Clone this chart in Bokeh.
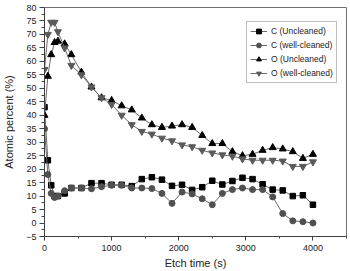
from bokeh.plotting import figure
from bokeh.models import Range1d, Legend, LegendItem, FixedTicker, AllLabels
from bokeh.embed import file_html
from bokeh.resources import INLINE

etch_time = [0, 50, 100, 150, 200, 300, 400, 550, 700, 850, 1000, 1150, 1300, 1450, 1600,
             1750, 1900, 2050, 2200, 2350, 2500, 2650, 2800, 2950, 3100, 3250, 3400,
             3550, 3700, 3850, 4000]
c_uncleaned = [43, 23.3, 14, 10, 10, 11, 13, 13, 14.8, 14.8, 14.2, 14.2, 13.7, 16.3, 17,
               16.1, 13.8, 14.2, 12.3, 13.3, 15.7, 14.3, 15.6, 16.8, 16.3, 14.4, 12.4,
               12.1, 10, 10.3, 6.8]
c_well_cleaned = [35, 18, 11, 9.5, 10, 12, 13, 13, 12.7, 13.5, 14, 14, 13, 13, 12.8,
                  11, 7.3, 11.5, 10.8, 9, 6.8, 11, 12.4, 13, 12.4, 12.4, 9.7,
                  3.5, 0.8, 0.5, 0]
o_uncleaned = [40, 54.5, 62.5, 67, 67.5, 66.5, 62.5, 56, 50.5, 46.5, 45.5, 43.5, 42, 39, 36.5,
               35.5, 36, 36.5, 35.5, 32.5, 29.5, 29.5, 26.5, 25, 25.5, 27, 28,
               27.5, 26.5, 24, 25.5]
o_well_cleaned = [57, 70, 74.5, 74.5, 71, 65, 58.5, 55, 50.5, 46.5, 44, 40, 36.5, 34, 33,
                  31.5, 30.5, 29, 28.3, 27, 26, 25.3, 24.8, 23.8, 23.3, 23.3, 23.3,
                  23, 21, 21, 22.7]
labels = ["C (Uncleaned)", "C (well-cleaned)", "O (Uncleaned)", "O (well-cleaned)"]
x_ticks = [0, 1000, 2000, 3000, 4000]
y_ticks = list(range(-5, 81, 5))

p = figure(width=350, height=271, output_backend="svg", toolbar_location=None,
           x_range=Range1d(0, 4500), y_range=Range1d(-5, 80),
           min_border_left=41, min_border_right=4, min_border_top=7, min_border_bottom=33)
p.grid.visible = False
p.background_fill_color = "white"
p.border_fill_color = "white"
p.outline_line_color = "#707070"
p.outline_line_width = 1

font = "Liberation Sans"
for ax in (p.xaxis[0], p.yaxis[0]):
    ax.axis_line_color = "#404040"
    ax.major_tick_line_color = "#404040"
    ax.minor_tick_line_color = "#404040"
    ax.major_label_text_font = font
    ax.major_label_text_font_size = "9px"
    ax.major_label_text_color = "#222222"
    ax.major_label_policy = AllLabels()
    ax.axis_label_text_font = font
    ax.axis_label_text_font_style = "normal"
    ax.axis_label_text_font_size = "11px"
    ax.axis_label_text_color = "#222222"
    ax.major_tick_in = 0
    ax.minor_tick_in = 0

p.xaxis.ticker = FixedTicker(ticks=x_ticks, minor_ticks=[500, 1500, 2500, 3500, 4500])
p.xaxis.major_tick_out = 4
p.xaxis.minor_tick_out = 2
p.xaxis.major_label_standoff = 4
p.xaxis.axis_label = "Etch time (s)"
p.xaxis.axis_label_standoff = 3

p.yaxis.ticker = FixedTicker(ticks=y_ticks, minor_ticks=[v + 2.5 for v in y_ticks[:-1]])
p.yaxis.major_tick_out = 5
p.yaxis.minor_tick_out = 3
p.yaxis.major_label_standoff = 3
p.yaxis.axis_label = "Atomic percent (%)"
p.yaxis.axis_label_standoff = 8

line_col = "#6a6a6a"
series = [
    (c_uncleaned, "square", "black", 5.5),
    (c_well_cleaned, "circle", "#505050", 6),
    (o_uncleaned, "triangle", "black", 7),
    (o_well_cleaned, "inverted_triangle", "#5a5a5a", 7),
]
items = []
for (vals, marker, col, size), lab in zip(series, labels):
    l = p.line(etch_time, vals, line_color=line_col, line_width=1)
    m = p.scatter(etch_time, vals, marker=marker, size=size, fill_color=col, line_color=col)
    items.append(LegendItem(label=lab, renderers=[l, m]))

legend = Legend(items=items, location=(202, 153))
legend.label_text_font = font
legend.label_text_font_size = "8.5px"
legend.label_text_color = "#222222"
legend.border_line_color = "#808080"
legend.border_line_width = 1
legend.padding = 3
legend.margin = 0
legend.spacing = 2
legend.glyph_width = 17
legend.glyph_height = 12
legend.label_height = 12
legend.label_standoff = 4
legend.background_fill_alpha = 1
p.add_layout(legend, "center")

open("out.html", "w").write(file_html(p, INLINE))
